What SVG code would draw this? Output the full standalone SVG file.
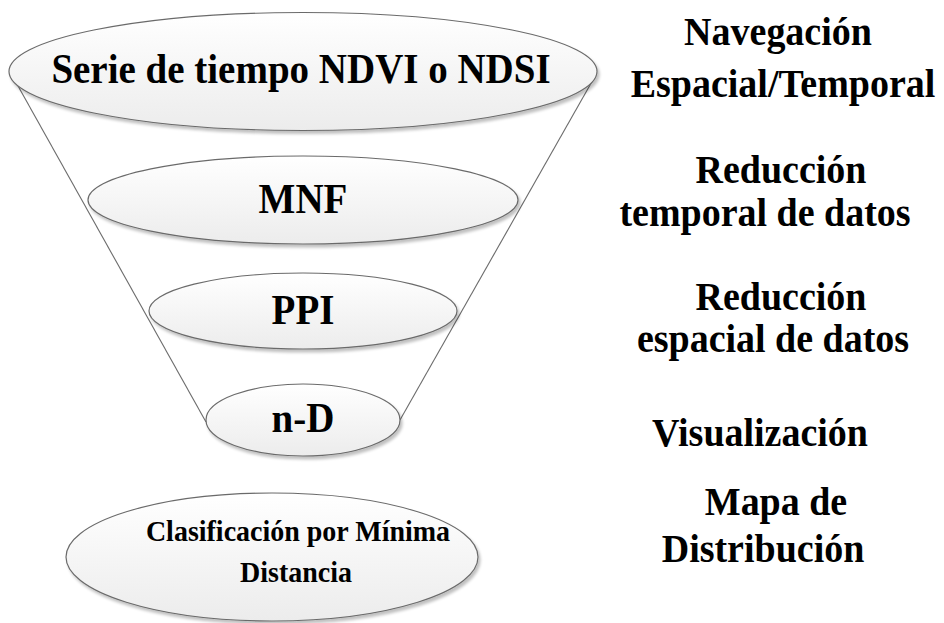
<svg xmlns="http://www.w3.org/2000/svg" width="944" height="623" viewBox="0 0 944 623">
<defs>
<linearGradient id="g" x1="0" y1="0" x2="0" y2="1">
<stop offset="0" stop-color="#ffffff"/>
<stop offset="1" stop-color="#ececec"/>
</linearGradient>
<filter id="sh" x="-5%" y="-10%" width="110%" height="125%">
<feGaussianBlur in="SourceAlpha" stdDeviation="1.5"/>
<feOffset dx="2" dy="3" result="b"/>
<feComponentTransfer><feFuncA type="linear" slope="0.25"/></feComponentTransfer>
<feMerge><feMergeNode/><feMergeNode in="SourceGraphic"/></feMerge>
</filter>
</defs>
<style>
.el{fill:url(#g);stroke:#6b6b6b;stroke-width:1.2;filter:url(#sh)}
.t{font-family:'Liberation Serif','Times New Roman','DejaVu Serif',serif;font-weight:700;fill:#000;text-anchor:middle}
.big{font-size:39px}
.sm{font-size:28px}
.side{font-size:38px}
.ln{stroke:#6b6b6b;stroke-width:1.1;fill:none}
</style>
<rect width="944" height="623" fill="#fff"/>
<g id="connectors">
<line class="ln" x1="13" y1="77" x2="206" y2="422"/>
<line class="ln" x1="594" y1="78" x2="400" y2="420"/>
</g>
<g id="serie">
<ellipse class="el" cx="303" cy="71.5" rx="294" ry="59"/>
<text class="t big" transform="translate(301,83) scale(1,1.08)">Serie de tiempo NDVI o NDSI</text>
</g>
<g id="mnf">
<ellipse class="el" cx="303" cy="200" rx="215" ry="44"/>
<text class="t big" transform="translate(303,213) scale(1,1.08)">MNF</text>
</g>
<g id="ppi">
<ellipse class="el" cx="303" cy="311" rx="154" ry="38"/>
<text class="t big" transform="translate(303,324) scale(1,1.08)">PPI</text>
</g>
<g id="nd">
<ellipse class="el" cx="303" cy="420" rx="97" ry="36"/>
<text class="t big" transform="translate(303,432) scale(1,1.08)">n-D</text>
</g>
<g id="clasificacion">
<ellipse class="el" cx="272" cy="557" rx="206" ry="64"/>
<text class="t sm" transform="translate(298,541) scale(1,1.08)">Clasificación por Mínima</text>
<text class="t sm" transform="translate(296,582) scale(1,1.08)">Distancia</text>
</g>
<g id="labels">
<text class="t side" transform="translate(778,45) scale(1,1.08)">Navegación</text>
<text class="t side" transform="translate(783,97) scale(1,1.08)">Espacial/Temporal</text>
<text class="t side" transform="translate(781,183) scale(1,1.08)">Reducción</text>
<text class="t side" transform="translate(765,226) scale(1,1.08)">temporal de datos</text>
<text class="t side" transform="translate(781,310) scale(1,1.08)">Reducción</text>
<text class="t side" transform="translate(773,352) scale(1,1.08)">espacial de datos</text>
<text class="t side" transform="translate(760,446) scale(1,1.08)">Visualización</text>
<text class="t side" transform="translate(776,515) scale(1,1.08)">Mapa de</text>
<text class="t side" transform="translate(763,562) scale(1,1.08)">Distribución</text>
</g>
</svg>
